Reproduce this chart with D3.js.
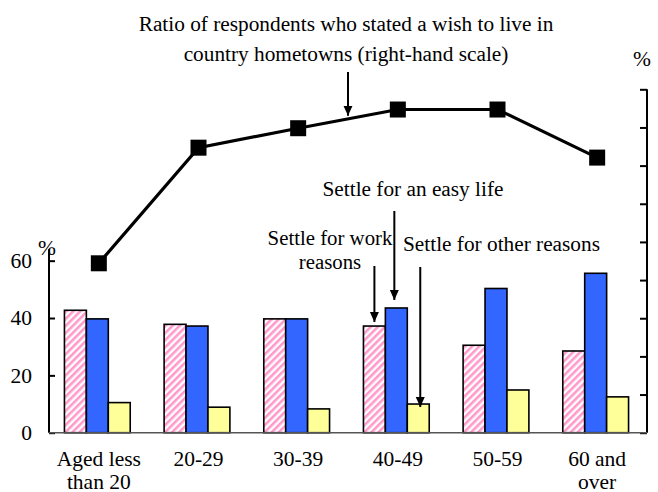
<!DOCTYPE html>
<html>
<head>
<meta charset="utf-8">
<script src="https://cdn.jsdelivr.net/npm/d3@7"></script>
<style>
  html, body { margin: 0; padding: 0; background: #fff; }
  svg, svg text { font-family: "Liberation Serif", "Times New Roman", serif; }
</style>
</head>
<body>
<div id="chart"></div>
<script>
// Age groups along the bottom axis
const categories = ["Aged less|than 20", "20-29", "30-39", "40-49", "50-59", "60 and|over"];
// Reasons for settling (left-hand scale, %)
const workReasons  = [42.7, 37.8, 39.7, 37.2, 30.5, 28.5];
const easyLife     = [39.7, 37.2, 39.7, 43.5, 50.3, 55.6];
const otherReasons = [10.5, 8.9, 8.3, 10.0, 14.9, 12.5];
// Wish to live in country hometowns (right-hand scale, %)
const hometownRatio = [44.4, 74.7, 79.8, 84.7, 84.7, 72.1];
// Tick values
const leftTicks = [0, 20, 40, 60];
const rightTicks = [0, 10, 20, 30, 40, 50, 60, 70, 80, 90];

const seriesKeys = ["work", "easy", "other"];
const seriesData = { work: workReasons, easy: easyLife, other: otherReasons };
const seriesFill = { work: "url(#hatch)", easy: "#3366ff", other: "#ffff99" };

const FONT = "Liberation Serif, Times New Roman, serif";
const W = 658, H = 492;
const left = 49, right = 647, bottom = 432.7;

const svg = d3.select("#chart").append("svg")
  .attr("width", W).attr("height", H)
  .attr("font-family", FONT);

const defs = svg.append("defs");
const hatch = defs.append("pattern")
  .attr("id", "hatch")
  .attr("patternUnits", "userSpaceOnUse")
  .attr("width", 5).attr("height", 5)
  .attr("patternTransform", "rotate(45)");
hatch.append("rect").attr("width", 5).attr("height", 5).attr("fill", "#ffffff");
hatch.append("rect").attr("width", 2.6).attr("height", 5).attr("fill", "#ff99cc");

const marker = defs.append("marker")
  .attr("id", "arrow")
  .attr("viewBox", "0 0 10 10")
  .attr("refX", 10).attr("refY", 5)
  .attr("markerWidth", 10).attr("markerHeight", 10)
  .attr("markerUnits", "userSpaceOnUse")
  .attr("orient", "auto");
marker.append("path").attr("d", "M0,0.5 L10,5 L0,9.5 Z").attr("fill", "#000");

// Scales
const x0 = d3.scaleBand().domain(categories).range([left, right]).paddingInner(0.34).paddingOuter(0.17);
const x1 = d3.scaleBand().domain(seriesKeys).range([0, x0.bandwidth()]);
const xc = c => x0(c) - x0.step() * 0.34 / 2 + x0.step() / 2;
const yL = d3.scaleLinear().domain([0, 64]).range([bottom, bottom - 64 * 2.867]);
const yR = d3.scaleLinear().domain([0, 90]).range([bottom, 89.3]);

// Bars
const groups = svg.append("g").selectAll("g")
  .data(categories).join("g")
  .attr("transform", c => `translate(${x0(c) - 1.5},0)`);
groups.selectAll("rect")
  .data((c, i) => seriesKeys.map(k => ({ key: k, value: seriesData[k][i] })))
  .join("rect")
  .attr("x", d => x1(d.key))
  .attr("width", x1.bandwidth())
  .attr("y", d => yL(d.value))
  .attr("height", d => yL(0) - yL(d.value))
  .attr("fill", d => seriesFill[d.key])
  .attr("stroke", "#000")
  .attr("stroke-width", 1.6);

// Left axis
const axL = svg.append("g").attr("transform", `translate(${left},0)`)
  .call(d3.axisRight(yL).tickValues(leftTicks).tickSize(6).tickFormat(d3.format("d")));
axL.attr("font-family", FONT);
axL.select(".domain").attr("stroke", "#000").attr("stroke-width", 2)
  .attr("d", `M0,${yL(64)}V${bottom}`);
axL.selectAll(".tick line").attr("stroke", "#000").attr("stroke-width", 2);
axL.selectAll(".tick text").attr("x", -17).attr("text-anchor", "end")
  .attr("font-size", 21.5).attr("fill", "#000");

// Right axis
const axR = svg.append("g").attr("transform", `translate(${right},0)`)
  .call(d3.axisLeft(yR).tickValues(rightTicks).tickSize(7).tickFormat(""));
axR.select(".domain").attr("stroke", "#000").attr("stroke-width", 2)
  .attr("d", `M0,${yR(90)}V${bottom}`);
axR.selectAll(".tick line").attr("stroke", "#000").attr("stroke-width", 2);

// Baseline
svg.append("line")
  .attr("x1", left).attr("x2", right).attr("y1", bottom).attr("y2", bottom)
  .attr("stroke", "#555").attr("stroke-width", 1.6);

// Category labels
const xlab = svg.append("g").attr("font-size", 21.5).attr("text-anchor", "middle");
categories.forEach(c => {
  c.split("|").forEach((line, j) => {
    xlab.append("text").attr("x", xc(c)).attr("y", 466 + j * 22.5).text(line);
  });
});

// Unit labels
svg.append("text").attr("x", 47).attr("y", 255).attr("text-anchor", "middle")
  .attr("font-size", 21.5).text("%");
svg.append("text").attr("x", 642).attr("y", 66).attr("text-anchor", "middle")
  .attr("font-size", 21.5).text("%");

// Ratio line with square markers
const linePts = categories.map((c, i) => [xc(c), yR(hometownRatio[i])]);
svg.append("path")
  .attr("d", d3.line()(linePts))
  .attr("fill", "none").attr("stroke", "#000").attr("stroke-width", 3.2);
svg.append("g").selectAll("rect").data(linePts).join("rect")
  .attr("x", d => d[0] - 8).attr("y", d => d[1] - 8)
  .attr("width", 16).attr("height", 16).attr("fill", "#000");

// Annotations
const ann = svg.append("g").attr("font-size", 21.3).attr("fill", "#000");
function arrow(x, yFrom, yTo) {
  svg.append("line")
    .attr("x1", x).attr("x2", x).attr("y1", yFrom).attr("y2", yTo)
    .attr("stroke", "#000").attr("stroke-width", 2)
    .attr("marker-end", "url(#arrow)");
}

ann.append("text").attr("text-anchor", "middle").attr("x", 346).attr("y", 31)
  .text("Ratio of respondents who stated a wish to live in");
ann.append("text").attr("text-anchor", "middle").attr("x", 346).attr("y", 61)
  .text("country hometowns (right-hand scale)");
const midX = (linePts[2][0] + linePts[3][0]) / 2;
const midY = (linePts[2][1] + linePts[3][1]) / 2;
arrow(midX, 72, midY - 3);

const c4 = categories[3];
const gx = x0(c4) - 1.5;
ann.append("text").attr("x", 413).attr("y", 196).attr("text-anchor", "middle").text("Settle for an easy life");
arrow(gx + x1("easy") + x1.bandwidth() / 2 - 2, 211, yL(easyLife[3]) - 8);

ann.append("text").attr("text-anchor", "middle").attr("x", 330).attr("y", 245)
  .attr("font-size", 20.8).text("Settle for work");
ann.append("text").attr("text-anchor", "middle").attr("x", 330).attr("y", 269)
  .attr("font-size", 20.8).text("reasons");
arrow(gx + x1("work") + x1.bandwidth() / 2, 266, yL(workReasons[3]) - 4);

ann.append("text").attr("x", 403).attr("y", 251).text("Settle for other reasons");
arrow(gx + x1("other") + x1.bandwidth() / 2 + 2, 267, yL(otherReasons[3]) + 3);
</script>
</body>
</html>
